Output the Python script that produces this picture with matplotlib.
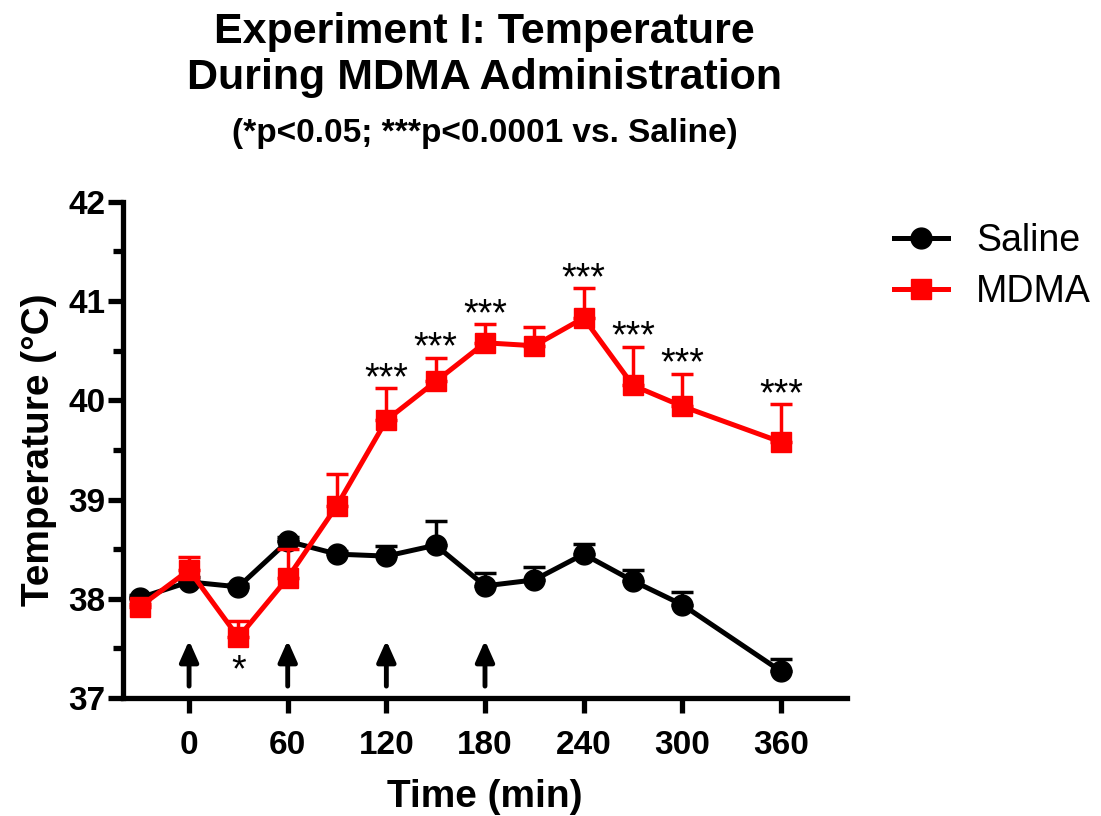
import numpy as np
import matplotlib
matplotlib.use("Agg")
import matplotlib.pyplot as plt
from matplotlib.lines import Line2D

plt.rcParams['font.family'] = ['Liberation Sans', 'DejaVu Sans']

# data
time = [-30, 0, 30, 60, 90, 120, 150, 180, 210, 240, 270, 300, 360]
saline = [38.01, 38.17, 38.12, 38.58, 38.45, 38.43, 38.54, 38.13, 38.19, 38.45, 38.18, 37.94, 37.27]
saline_err = [0.03, 0.05, 0.03, 0.04, 0.03, 0.1, 0.24, 0.13, 0.13, 0.1, 0.11, 0.13, 0.12]
mdma = [37.92, 38.29, 37.61, 38.21, 38.94, 39.80, 40.19, 40.58, 40.55, 40.83, 40.15, 39.94, 39.58]
mdma_err = [0.03, 0.13, 0.17, 0.29, 0.32, 0.32, 0.24, 0.19, 0.19, 0.30, 0.39, 0.33, 0.38]
sig_times = [120, 150, 180, 240, 270, 300, 360]
injection_times = [0, 60, 120, 180]
xticks = [0, 60, 120, 180, 240, 300, 360]

fig = plt.figure(figsize=(11.01, 8.16), dpi=100)
ax = fig.add_axes([0.112, 0.1446, 0.657, 0.608])

ax.errorbar(time, saline, yerr=[np.zeros(len(saline_err)), saline_err],
            color='black', marker='o', markersize=15, lw=3.6,
            elinewidth=2.5, capsize=8, capthick=2.5, zorder=3)
ax.errorbar(time, mdma, yerr=[np.zeros(len(mdma_err)), mdma_err],
            color='#ff0000', marker='s', markersize=14, lw=3.6,
            elinewidth=2.5, capsize=8, capthick=2.5, zorder=4)

# significance stars
for t in sig_times:
    i = time.index(t)
    ax.text(t, mdma[i] + mdma_err[i] - 0.09, '***', ha='center', va='bottom',
            fontsize=27)
ax.text(30, 37.27, '*', ha='center', va='center', fontsize=27)

# injection arrows
for t in injection_times:
    ax.annotate('', xy=(t, 37.58), xytext=(t, 37.12),
                arrowprops=dict(arrowstyle='-|>,head_length=0.45,head_width=0.2',
                                color='black', lw=3.5, mutation_scale=28,
                                shrinkA=0, shrinkB=0))

ax.set_xlim(-40, 400)
ax.set_ylim(37, 42)
ax.set_xticks(xticks)
ax.set_yticks([37, 38, 39, 40, 41, 42])
ax.set_yticks(np.arange(37.5, 42, 1.0), minor=True)
ax.spines['top'].set_visible(False)
ax.spines['right'].set_visible(False)
for s in ['left', 'bottom']:
    ax.spines[s].set_linewidth(3.8)
ax.tick_params(axis='both', which='major', length=11, width=3.8, labelsize=24)
ax.tick_params(axis='x', which='major', pad=12)
ax.tick_params(axis='y', which='major', pad=2)
ax.tick_params(axis='y', which='minor', length=7, width=3.8)
for lab in ax.get_xticklabels() + ax.get_yticklabels():
    lab.set_fontweight('bold')

ax.set_xlabel('Time (min)', fontsize=28, fontweight='bold', labelpad=13)
ax.set_ylabel('Temperature (°C)', fontsize=28, fontweight='bold', labelpad=8)

handles = [Line2D([], [], color='black', marker='o', markersize=15, lw=3.6),
           Line2D([], [], color='#ff0000', marker='s', markersize=14, lw=3.6)]
ax.legend(handles, ['Saline', 'MDMA'], loc='upper left',
          bbox_to_anchor=(1.039, 0.995), frameon=False, fontsize=27,
          handlelength=1.45, handletextpad=0.75, labelspacing=0.4, borderpad=0)

fig.text(0.44, 0.961, 'Experiment I: Temperature', ha='center', va='center',
         fontsize=31, fontweight='bold')
fig.text(0.44, 0.904, 'During MDMA Administration', ha='center', va='center',
         fontsize=31, fontweight='bold')
fig.text(0.44, 0.837, '(*p<0.05; ***p<0.0001 vs. Saline)',
         ha='center', va='center', fontsize=24, fontweight='bold')

fig.savefig('out.png', dpi=100)
